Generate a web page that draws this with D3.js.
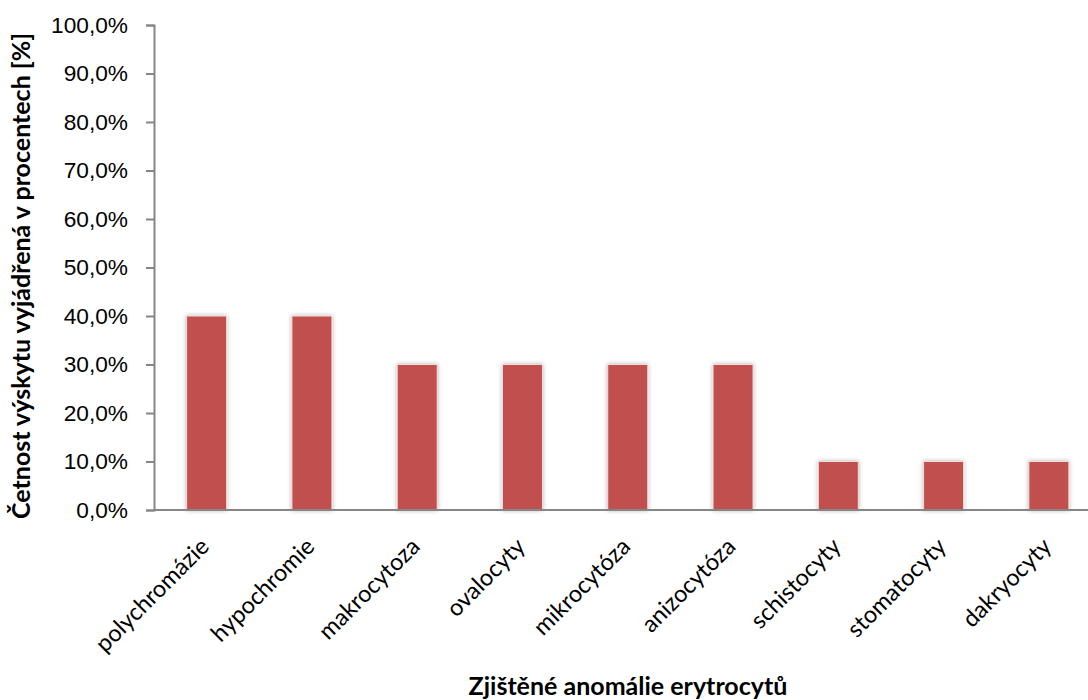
<!DOCTYPE html>
<html>
<head>
<meta charset="utf-8">
<script src="https://cdn.jsdelivr.net/npm/d3@7"></script>
<style>
  body { margin: 0; background: #fff; }
</style>
</head>
<body>
<svg id="chart" width="1088" height="700"></svg>
<script>
// data
const categories = ["polychromázie", "hypochromie", "makrocytoza", "ovalocyty", "mikrocytóza",
  "anizocytóza", "schistocyty", "stomatocyty", "dakryocyty"];
const values = [0.40, 0.40, 0.30, 0.30, 0.30, 0.30, 0.10, 0.10, 0.10];
const yTicks = [0, 0.1, 0.2, 0.3, 0.4, 0.5, 0.6, 0.7, 0.8, 0.9, 1.0];

const BAR = "#c0504d";
const AXIS = "#868686";

const svg = d3.select("#chart");

// plot area
const plotLeft = 154, plotRight = 1101.5, plotTop = 25, plotBottom = 510;

const x = d3.scaleBand()
  .domain(categories)
  .range([plotLeft, plotRight])
  .paddingInner(0.62)
  .paddingOuter(0.31);

const y = d3.scaleLinear()
  .domain([0, 1])
  .range([plotBottom, plotTop]);

// soft shadow behind bars
const defs = svg.append("defs");
const f = defs.append("filter").attr("id", "shadow")
  .attr("x", "-30%").attr("y", "-10%").attr("width", "160%").attr("height", "120%");
f.append("feDropShadow")
  .attr("dx", 0).attr("dy", 0).attr("stdDeviation", 2)
  .attr("flood-color", "#000").attr("flood-opacity", 0.3);

// bars
svg.append("g")
  .selectAll("rect")
  .data(values)
  .join("rect")
  .attr("x", (d, i) => x(categories[i]))
  .attr("y", d => y(d))
  .attr("width", x.bandwidth())
  .attr("height", d => y(0) - y(d))
  .attr("fill", BAR)
  .attr("stroke", "#f2dcdb")
  .attr("stroke-width", 1)
  .attr("filter", "url(#shadow)");

// y axis
const yAxis = svg.append("g")
  .attr("transform", `translate(${plotLeft},0)`)
  .call(d3.axisLeft(y)
    .tickValues(yTicks)
    .tickSize(8)
    .tickPadding(18)
    .tickFormat(d => d3.format(".1f")(d * 100).replace(".", ",") + "%"));
yAxis.select(".domain").attr("stroke", AXIS).attr("stroke-width", 2);
yAxis.selectAll(".tick line").attr("stroke", AXIS).attr("stroke-width", 2);
yAxis.selectAll(".tick text")
  .attr("fill", "#000")
  .style("font-family", "'Liberation Sans', Arial, sans-serif")
  .style("font-size", "22.7px");

// x axis
const xAxis = svg.append("g")
  .attr("transform", `translate(0,${plotBottom})`)
  .call(d3.axisBottom(x).tickSize(0).tickFormat(""));
xAxis.select(".domain")
  .attr("d", `M${plotLeft},0H1088`)
  .attr("stroke", AXIS).attr("stroke-width", 2);

// rotated category labels
svg.append("g")
  .selectAll("text")
  .data(categories)
  .join("text")
  .attr("transform", d => `translate(${x(d) + x.bandwidth() / 2 + 4},${plotBottom + 38}) rotate(-45)`)
  .attr("text-anchor", "end")
  .style("font-family", "Lato, 'Open Sans', sans-serif")
  .style("font-size", "23.5px")
  .attr("fill", "#000")
  .text(d => d);

// axis titles
svg.append("text")
  .attr("transform", "translate(30,276) rotate(-90)")
  .attr("text-anchor", "middle")
  .style("font-family", "Lato, 'Open Sans', sans-serif")
  .style("font-weight", "bold")
  .style("font-size", "25px")
  .text("Četnost výskytu vyjádřená v procentech [%]");

svg.append("text")
  .attr("x", 628)
  .attr("y", 695)
  .attr("text-anchor", "middle")
  .style("font-family", "Lato, 'Open Sans', sans-serif")
  .style("font-weight", "bold")
  .style("font-size", "25px")
  .text("Zjištěné anomálie erytrocytů");
</script>
</body>
</html>
